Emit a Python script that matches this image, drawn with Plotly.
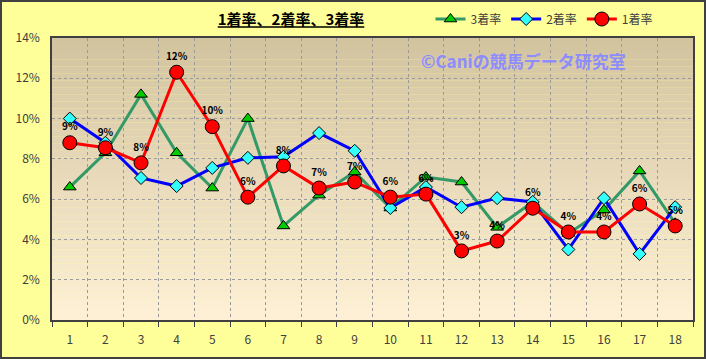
import plotly.graph_objects as go

races = list(range(1, 19))
rate3 = [6.6, 8.3, 11.2, 8.3, 6.55, 10.0, 4.67, 6.2, 7.35, 5.56, 7.1, 6.85, 4.6, 5.86, 4.3, 5.46, 7.4, 4.8]
rate2 = [10.0, 8.8, 7.05, 6.65, 7.55, 8.05, 8.1, 9.28, 8.4, 5.56, 6.6, 5.6, 6.05, 5.86, 3.5, 6.05, 3.28, 5.6]
rate1 = [8.8, 8.55, 7.8, 12.3, 9.6, 6.1, 7.65, 6.55, 6.85, 6.1, 6.25, 3.43, 3.92, 5.55, 4.37, 4.37, 5.76, 4.67]
labels1 = [f"{v:.0f}%" for v in rate1]

W, H = 706, 359
ML, MR, MT, MB = 52, 13, 38, 39
FONT = "Noto Sans CJK JP"

fig = go.Figure()
fig.add_trace(go.Scatter(
    x=races, y=rate3, name="3着率", mode="lines+markers",
    line=dict(color="#339966", width=3),
    marker=dict(symbol="triangle-up", size=11, color="#00CC00", line=dict(color="#000000", width=1)),
))
fig.add_trace(go.Scatter(
    x=races, y=rate2, name="2着率", mode="lines+markers",
    line=dict(color="#0000FF", width=3),
    marker=dict(symbol="diamond", size=10, color="#33FFFF", line=dict(color="#000000", width=1)),
))
fig.add_trace(go.Scatter(
    x=races, y=rate1, name="1着率", mode="lines+markers+text",
    line=dict(color="#FF0000", width=3),
    marker=dict(symbol="circle", size=14, color="#FF0000", line=dict(color="#000000", width=1)),
    text=labels1, textposition="top center",
    textfont=dict(family=FONT, size=10, color="#000000", weight="bold"),
))

# gradient plot background
top = (211, 196, 160)
bot = (253, 240, 213)
n = 40
shapes = []
for i in range(n):
    t = i / (n - 1)
    c = tuple(int(round(top[k] + (bot[k] - top[k]) * t)) for k in range(3))
    shapes.append(dict(type="rect", xref="x domain", yref="y domain",
                       x0=0, x1=1, y0=1 - (i + 1) / n, y1=1 - i / n,
                       fillcolor=f"rgb{c}", line=dict(width=0), layer="below"))
# outer border
pw, ph = W - ML - MR, H - MT - MB
shapes.append(dict(type="rect", xref="paper", yref="paper",
                   x0=-(ML - 1) / pw, x1=1 + (MR - 1) / pw,
                   y0=-(MB - 1) / ph, y1=1 + (MT - 1) / ph,
                   line=dict(color="#404040", width=2), fillcolor="rgba(0,0,0,0)", layer="above"))

fig.update_layout(
    width=W, height=H,
    margin=dict(l=ML, r=MR, t=MT, b=MB, autoexpand=False),
    paper_bgcolor="#FFFF99",
    plot_bgcolor="rgba(0,0,0,0)",
    font=dict(family=FONT, color="#404040", size=12),
    title=dict(text="<b><u>1着率、2着率、3着率</u></b>", x=291 / W, xanchor="center",
               y=1 - 20 / H, yanchor="middle", automargin=False,
               font=dict(family=FONT, size=15, color="#000000")),
    legend=dict(orientation="h", x=1 - 38 / W, xanchor="right", y=1 - 19 / H, yref="container",
                yanchor="middle", bgcolor="rgba(0,0,0,0)",
                font=dict(family=FONT, size=12, color="#404040"),
                itemwidth=30, tracegroupgap=0),
    shapes=shapes,
    showlegend=True,
)
fig.update_xaxes(
    range=[0.5, 18.5], tickvals=races, ticktext=[str(r) for r in races],
    showgrid=False, ticks="", zeroline=False, ticklabelstandoff=8,
    showline=True, linecolor="#404040", linewidth=1.5, mirror=True,
    minor=dict(tick0=0.5, dtick=1, showgrid=True, gridcolor="#9a9a9a", griddash="dot",
               gridwidth=1, ticks="outside", ticklen=5, tickcolor="#404040"),
    tickfont=dict(family=FONT, size=12, color="#404040"),
)
fig.update_yaxes(
    range=[0, 14], dtick=2, ticksuffix="%", showgrid=True, gridcolor="#9a9a9a",
    griddash="dot", gridwidth=1, zeroline=False, ticklabelstandoff=8,
    showline=True, linecolor="#404040", linewidth=1.5, mirror=True,
    ticks="", tickfont=dict(family=FONT, size=12, color="#404040"),
)
fig.add_annotation(
    text="©Caniの競馬データ研究室", xref="paper", yref="paper",
    x=(419 - ML) / pw, xanchor="left", y=1 - (60 - MT) / ph, yanchor="middle",
    showarrow=False, font=dict(family=FONT, size=17, color="#8C8CFF", weight="bold"),
)
fig.write_html("out.html")
